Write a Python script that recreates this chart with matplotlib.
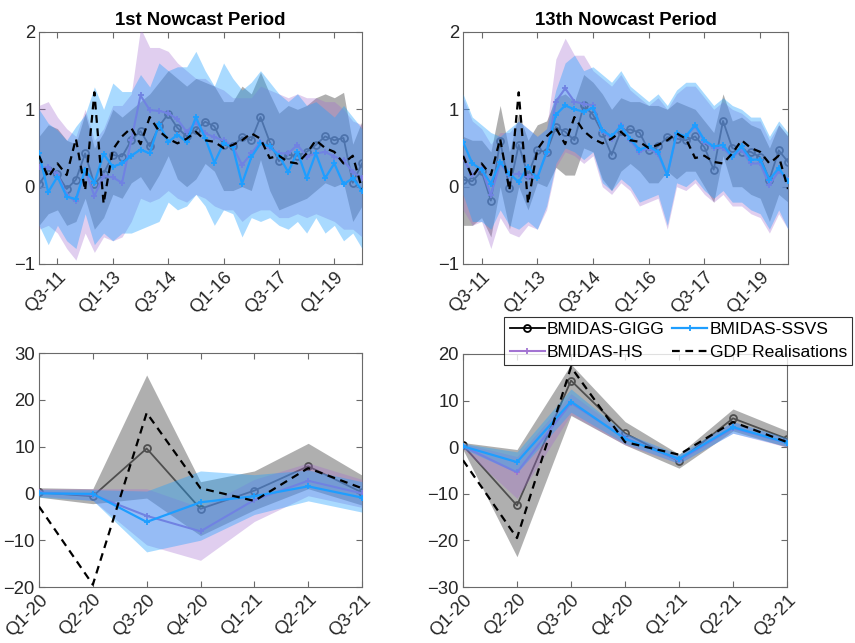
import numpy as np
import matplotlib
matplotlib.use("Agg")
import matplotlib.pyplot as plt

plt.rcParams['font.family'] = ['Liberation Sans', 'DejaVu Sans']

# ---------------- data ----------------
top_quarters = [f"Q{q}-{y}" for y in range(11, 20) for q in range(1, 5)]
top_tick_labels = ['Q3-11', 'Q1-13', 'Q3-14', 'Q1-16', 'Q3-17', 'Q1-19']
bottom_quarters = ['Q1-20', 'Q2-20', 'Q3-20', 'Q4-20', 'Q1-21', 'Q2-21', 'Q3-21']

gdp_top = [0.40, 0.12, 0.30, 0.15, 0.62, -0.05, 1.22, -0.22, 0.48, 0.65, 0.76, 0.55,
           0.90, 0.72, 0.62, 0.56, 0.62, 0.71, 0.60, 0.58, 0.50, 0.54, 0.60, 0.69,
           0.62, 0.37, 0.40, 0.32, 0.30, 0.43, 0.60, 0.50, 0.45, 0.30, 0.40, -0.03]

# 1st nowcast period (top-left)
tl_gigg = [0.03, 0.21, 0.16, -0.03, 0.09, 0.43, 0.03, 0.17, 0.41, 0.39, 0.60, 0.72,
           0.52, 0.78, 0.94, 0.76, 0.65, 0.73, 0.84, 0.78, 0.54, 0.52, 0.64, 0.60,
           0.90, 0.58, 0.33, 0.41, 0.40, 0.45, 0.54, 0.65, 0.60, 0.63, 0.05, 0.30]
tl_hs = [0.25, 0.25, 0.16, -0.11, -0.19, 0.22, -0.12, 0.14, 0.12, 0.05, 0.60, 1.18,
         0.99, 0.98, 0.95, 0.87, 0.71, 0.83, 0.69, 0.64, 0.60, 0.52, 0.28, 0.43,
         0.58, 0.50, 0.43, 0.43, 0.54, 0.39, 0.43, 0.45, 0.39, 0.34, 0.19, 0.11]
tl_ssvs = [0.43, -0.07, 0.13, -0.13, -0.16, 0.22, 0.05, 0.42, 0.26, 0.30, 0.40, 0.48,
           0.43, 0.81, 0.58, 0.67, 0.58, 0.90, 0.63, 0.31, 0.56, 0.51, 0.04, 0.38,
           0.56, 0.52, 0.40, 0.19, 0.45, 0.11, 0.43, 0.11, 0.30, 0.03, 0.11, -0.05]
tl_gigg_hi = [0.65, 0.80, 0.75, 0.60, 0.55, 0.95, 0.50, 0.70, 1.00, 0.90, 1.00, 1.10,
              1.20, 1.35, 1.50, 1.40, 1.30, 1.40, 1.35, 1.30, 1.10, 1.10, 1.30, 1.20,
              1.48, 1.20, 0.95, 1.05, 1.00, 1.05, 1.15, 1.20, 1.15, 1.22, 0.55, 0.85]
tl_gigg_lo = [-0.50, -0.35, -0.30, -0.50, -0.45, -0.15, -0.55, -0.40, -0.10, -0.15, 0.05, 0.13,
              -0.05, 0.15, 0.40, 0.10, 0.00, 0.10, 0.30, 0.20, -0.05, -0.05, 0.00, -0.05,
              0.35, -0.05, -0.30, -0.25, -0.20, -0.15, -0.05, 0.05, 0.00, 0.05, -0.45, -0.25]
tl_hs_hi = [1.05, 1.10, 0.90, 0.75, 0.65, 1.00, 0.60, 0.75, 1.05, 1.05, 1.20, 2.05,
            1.80, 1.80, 1.75, 1.60, 1.50, 1.40, 1.40, 1.30, 1.25, 1.15, 1.15, 1.15,
            1.30, 1.25, 1.20, 1.15, 1.20, 1.15, 1.15, 1.10, 1.10, 1.00, 0.85, 0.80]
tl_hs_lo = [-0.55, -0.50, -0.60, -0.80, -0.95, -0.60, -0.85, -0.65, -0.70, -0.65, -0.45, -0.15,
            -0.20, -0.15, -0.05, -0.15, -0.20, -0.10, -0.15, -0.25, -0.30, -0.30, -0.45, -0.35,
            -0.30, -0.30, -0.40, -0.40, -0.35, -0.40, -0.35, -0.40, -0.45, -0.55, -0.55, -0.65]
tl_ssvs_hi = [1.00, 0.82, 0.73, 0.60, 0.78, 0.93, 1.29, 1.00, 1.34, 1.23, 1.23, 1.45,
              1.29, 1.60, 1.50, 1.55, 1.55, 1.75, 1.50, 1.30, 1.60, 1.40, 1.25, 1.35,
              1.50, 1.35, 1.20, 1.10, 1.20, 1.05, 1.10, 1.00, 0.90, 1.05, 0.90, 0.75]
tl_ssvs_lo = [-0.50, -0.75, -0.50, -0.70, -0.80, -0.35, -0.75, -0.60, -0.70, -0.60, -0.60, -0.55,
              -0.50, -0.45, -0.20, -0.30, -0.25, -0.10, -0.25, -0.50, -0.30, -0.35, -0.65, -0.40,
              -0.45, -0.40, -0.50, -0.55, -0.45, -0.60, -0.40, -0.60, -0.50, -0.70, -0.60, -0.80]

# 13th nowcast period (top-right)
tr_gigg = [0.09, 0.07, 0.20, -0.18, 0.59, -0.02, 0.54, 0.15, 0.47, 0.45, 0.77, 0.71,
           0.60, 1.05, 0.93, 0.70, 0.41, 0.72, 0.74, 0.70, 0.47, 0.52, 0.64, 0.62,
           0.60, 0.65, 0.51, 0.22, 0.85, 0.50, 0.45, 0.45, 0.38, 0.09, 0.47, 0.32]
tr_hs = [0.37, 0.15, 0.24, -0.11, 0.30, 0.15, 0.17, 0.13, 0.13, 0.43, 1.10, 1.27,
         1.10, 1.07, 1.05, 0.72, 0.62, 0.80, 0.60, 0.45, 0.50, 0.42, 0.15, 0.67,
         0.65, 0.78, 0.58, 0.50, 0.50, 0.38, 0.48, 0.30, 0.30, 0.02, 0.20, 0.08]
tr_ssvs = [0.58, 0.30, 0.22, 0.04, 0.32, 0.17, 0.06, 0.26, 0.11, 0.45, 0.93, 1.05,
           1.00, 0.97, 1.02, 0.73, 0.65, 0.78, 0.62, 0.48, 0.52, 0.45, 0.15, 0.69,
           0.65, 0.80, 0.60, 0.52, 0.54, 0.39, 0.52, 0.35, 0.35, 0.09, 0.24, 0.07]
tr_gigg_hi = [0.65, 0.60, 0.60, 0.45, 1.05, 0.45, 0.95, 0.60, 0.80, 0.85, 1.15, 1.20,
              1.10, 1.45, 1.35, 1.20, 1.00, 1.15, 1.10, 1.10, 1.05, 1.05, 1.00, 1.10,
              1.05, 1.00, 0.85, 0.70, 1.20, 0.85, 0.90, 0.80, 0.75, 0.50, 0.80, 0.65]
tr_gigg_lo = [-0.50, -0.50, -0.40, -0.65, 0.00, -0.55, 0.00, -0.30, 0.05, 0.00, 0.25, 0.15,
              0.15, 0.50, 0.45, 0.10, -0.05, 0.20, 0.30, 0.20, 0.05, 0.05, 0.20, 0.10,
              0.20, 0.20, 0.00, -0.20, 0.40, 0.00, 0.00, -0.10, -0.15, -0.45, -0.10, -0.20]
tr_hs_hi = [1.15, 0.85, 0.75, 0.55, 0.70, 0.70, 0.85, 0.75, 0.65, 0.75, 1.65, 1.92,
            1.70, 1.70, 1.50, 1.40, 1.30, 1.45, 1.25, 1.15, 1.05, 1.15, 1.00, 1.20,
            1.30, 1.30, 1.15, 1.00, 1.10, 1.00, 0.95, 0.85, 0.85, 0.60, 0.80, 0.65]
tr_hs_lo = [-0.30, -0.50, -0.45, -0.80, -0.40, -0.60, -0.65, -0.50, -0.55, -0.30, 0.25, 0.45,
            0.40, 0.30, 0.40, 0.00, -0.10, 0.05, -0.05, -0.25, -0.20, -0.15, -0.55, 0.00,
            -0.05, 0.05, -0.10, -0.20, -0.10, -0.25, -0.25, -0.35, -0.40, -0.60, -0.35, -0.55]
tr_ssvs_hi = [1.20, 0.90, 0.80, 0.70, 0.65, 0.75, 0.85, 0.75, 0.65, 0.75, 1.25, 1.60,
              1.70, 1.50, 1.55, 1.45, 1.35, 1.50, 1.30, 1.20, 1.10, 1.20, 1.05, 1.25,
              1.35, 1.35, 1.20, 1.05, 1.15, 1.05, 1.00, 0.90, 0.90, 0.65, 0.85, 0.70]
tr_ssvs_lo = [-0.10, -0.45, -0.45, -0.55, -0.30, -0.50, -0.55, -0.45, -0.55, -0.25, 0.30, 0.50,
              0.45, 0.35, 0.45, 0.05, -0.05, 0.10, 0.00, -0.20, -0.15, -0.10, -0.50, 0.05,
              0.00, 0.10, -0.05, -0.15, -0.05, -0.20, -0.20, -0.30, -0.35, -0.55, -0.30, -0.55]

# COVID period
gdp_bottom = [-2.8, -19.5, 17.2, 1.1, -1.6, 5.4, 1.1]

bl_gigg = [0.2, -0.6, 9.6, -3.3, 0.6, 5.8, 0.2]
bl_hs = [0.2, -0.3, -4.8, -8.1, -1.4, 2.7, 0.0]
bl_ssvs = [0.0, -0.1, -6.1, -1.9, -0.6, 1.5, -0.9]
bl_gigg_hi = [1.2, 1.0, 25.3, 2.5, 4.8, 10.7, 3.9]
bl_gigg_lo = [-0.8, -2.2, -1.0, -9.0, -3.5, 1.0, -2.5]
bl_hs_hi = [1.0, 1.0, 1.0, -3.0, 3.0, 6.5, 3.0]
bl_hs_lo = [-0.5, -1.5, -11.0, -14.3, -6.0, -0.5, -3.0]
bl_ssvs_hi = [0.8, 0.8, 0.5, 4.8, 4.0, 5.0, 2.5]
bl_ssvs_lo = [-0.8, -1.5, -12.5, -10.0, -4.5, -1.6, -4.0]

br_gigg = [0.4, -12.5, 14.3, 3.0, -3.0, 6.2, 1.8]
br_hs = [0.2, -5.4, 9.5, 2.0, -2.8, 4.1, 0.9]
br_ssvs = [0.2, -3.2, 9.8, 1.8, -2.5, 4.3, 1.0]
br_gigg_hi = [1.0, -0.5, 17.8, 5.5, -1.5, 8.2, 3.5]
br_gigg_lo = [-0.5, -23.5, 6.8, 0.5, -4.5, 3.5, 0.0]
br_hs_hi = [0.8, -2.0, 11.5, 3.0, -1.8, 5.5, 1.8]
br_hs_lo = [-0.3, -11.0, 7.0, 0.5, -3.5, 3.0, 0.0]
br_ssvs_hi = [0.8, -1.0, 12.5, 3.0, -1.5, 5.5, 2.0]
br_ssvs_lo = [-0.3, -5.5, 7.5, 0.8, -3.5, 3.0, 0.2]

# ---------------- style ----------------
C_GIGG = 'black'
C_HS = '#A374D2'
C_SSVS = '#1E9EFF'
F_GIGG = ('#7F7F7F', 0.62)
F_HS = ('#A36CCF', 0.33)
F_SSVS = ('#1EA0FF', 0.38)
FS = 13.3
LFS = 12.6

fig = plt.figure(figsize=(8.55, 6.43), dpi=100)
W, H = 855, 643


def add_ax(l, t, r, b):
    return fig.add_axes([l / W, 1 - b / H, (r - l) / W, (b - t) / H])


def style(ax):
    for s in ax.spines.values():
        s.set_color('#6a6a6a')
        s.set_linewidth(0.8)
    ax.tick_params(direction='in', top=True, right=True, length=4, width=0.8,
                   colors='#6a6a6a', labelcolor='#262626', labelsize=FS, pad=3)


def panel(ax, labels, gigg, hs, ssvs, gdp, g_hi, g_lo, h_hi, h_lo, s_hi, s_lo):
    x = np.arange(len(labels))
    l_g, = ax.plot(x, gigg, color=C_GIGG, lw=1.3, marker='o', ms=5, mfc='none',
                   mew=1.3, zorder=1, label='BMIDAS-GIGG')
    ax.fill_between(x, g_lo, g_hi, color=F_GIGG[0], alpha=F_GIGG[1], lw=0, zorder=2)
    l_h, = ax.plot(x, hs, color=C_HS, lw=1.5, marker='+', ms=5, mew=1.3, zorder=3,
                   label='BMIDAS-HS')
    ax.fill_between(x, h_lo, h_hi, color=F_HS[0], alpha=F_HS[1], lw=0, zorder=4)
    ax.fill_between(x, s_lo, s_hi, color=F_SSVS[0], alpha=F_SSVS[1], lw=0, zorder=5)
    l_s, = ax.plot(x, ssvs, color=C_SSVS, lw=1.6, marker='+', ms=5, mew=1.3, zorder=6,
                   label='BMIDAS-SSVS')
    l_d, = ax.plot(x, gdp, color='black', lw=1.6, ls=(0, (3.5, 2.5)), zorder=7,
                   label='GDP Realisations')
    ax.set_xlim(0, len(labels) - 1)
    return l_g, l_h, l_s, l_d


ax1 = add_ax(39, 32, 362, 264)
ax2 = add_ax(463, 32, 788, 264)
ax3 = add_ax(39, 353, 362, 587)
ax4 = add_ax(463, 354, 787, 587)

panel(ax1, top_quarters, tl_gigg, tl_hs, tl_ssvs, gdp_top,
      tl_gigg_hi, tl_gigg_lo, tl_hs_hi, tl_hs_lo, tl_ssvs_hi, tl_ssvs_lo)
panel(ax2, top_quarters, tr_gigg, tr_hs, tr_ssvs, gdp_top,
      tr_gigg_hi, tr_gigg_lo, tr_hs_hi, tr_hs_lo, tr_ssvs_hi, tr_ssvs_lo)
panel(ax3, bottom_quarters, bl_gigg, bl_hs, bl_ssvs, gdp_bottom,
      bl_gigg_hi, bl_gigg_lo, bl_hs_hi, bl_hs_lo, bl_ssvs_hi, bl_ssvs_lo)
handles = panel(ax4, bottom_quarters, br_gigg, br_hs, br_ssvs, gdp_bottom,
                br_gigg_hi, br_gigg_lo, br_hs_hi, br_hs_lo, br_ssvs_hi, br_ssvs_lo)

for ax, title in [(ax1, '1st Nowcast Period'), (ax2, '13th Nowcast Period')]:
    ticks = [top_quarters.index(t) for t in top_tick_labels]
    ax.set_xticks(ticks)
    ax.set_xticklabels(top_tick_labels, rotation=45, ha='right', rotation_mode='anchor')
    ax.set_ylim(-1, 2)
    ax.set_yticks([-1, 0, 1, 2])
    ax.set_title(title, fontsize=FS, fontweight='bold', pad=5)
    style(ax)

for ax, yl in [(ax3, (-20, 30)), (ax4, (-30, 20))]:
    ax.set_xticks(range(len(bottom_quarters)))
    ax.set_xticklabels(bottom_quarters, rotation=45, ha='right', rotation_mode='anchor')
    ax.set_ylim(*yl)
    ax.set_yticks(np.arange(yl[0], yl[1] + 1, 10))
    style(ax)

l_g, l_h, l_s, l_d = handles
leg = fig.legend([l_g, l_h, l_s, l_d],
                 ['BMIDAS-GIGG', 'BMIDAS-HS', 'BMIDAS-SSVS', 'GDP Realisations'],
                 ncol=2, loc='upper right', bbox_to_anchor=(852 / W, 1 - 317 / H),
                 fontsize=LFS, frameon=True, fancybox=False, edgecolor='black',
                 handlelength=2.0, handletextpad=0.12, columnspacing=0.45,
                 labelspacing=0.4, borderpad=0.3, borderaxespad=0)
leg.get_frame().set_linewidth(0.8)

fig.savefig('out.png', dpi=100)
